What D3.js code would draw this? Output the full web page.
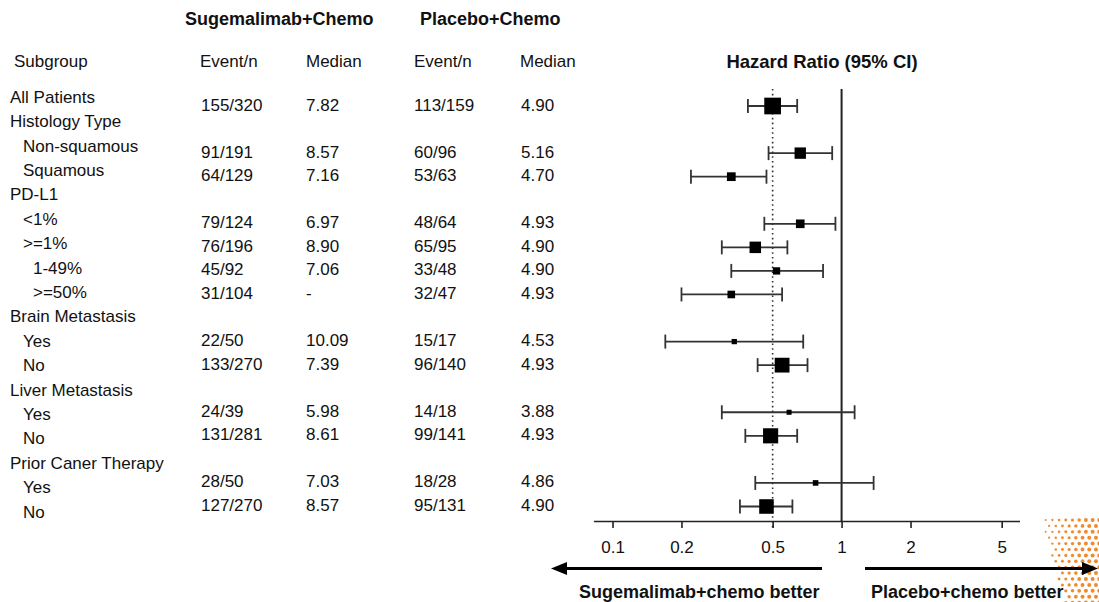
<!DOCTYPE html>
<html>
<head>
<meta charset="utf-8">
<script src="https://cdn.jsdelivr.net/npm/d3@7"></script>
<style>
  html, body { margin: 0; padding: 0; background: #ffffff; }
  svg { display: block; font-family: "Liberation Sans", Arial, sans-serif; }
</style>
</head>
<body>
<script>
// ---------------- DATA ----------------
const subgroupLabels = ["All Patients","Histology Type","Non-squamous","Squamous","PD-L1","<1%",">=1%","1-49%",">=50%",
  "Brain Metastasis","Yes","No","Liver Metastasis","Yes","No","Prior Caner Therapy","Yes","No"];
const subgroupLevels = [0,0,1,1,0,1,1,2,2,0,1,1,0,1,1,0,1,1];

// row index (in subgroup list) for each data row
const dataRows   = [0,2,3,5,6,7,8,10,11,13,14,16,17];
const sugEvents  = ["155/320","91/191","64/129","79/124","76/196","45/92","31/104","22/50","133/270","24/39","131/281","28/50","127/270"];
const sugMedian  = ["7.82","8.57","7.16","6.97","8.90","7.06","-","10.09","7.39","5.98","8.61","7.03","8.57"];
const plaEvents  = ["113/159","60/96","53/63","48/64","65/95","33/48","32/47","15/17","96/140","14/18","99/141","18/28","95/131"];
const plaMedian  = ["4.90","5.16","4.70","4.93","4.90","4.90","4.93","4.53","4.93","3.88","4.93","4.86","4.90"];
const hazardRatio = [0.50,0.66,0.33,0.66,0.42,0.52,0.33,0.34,0.55,0.59,0.49,0.77,0.47];
const ciLower     = [0.39,0.48,0.22,0.46,0.30,0.33,0.20,0.17,0.43,0.30,0.38,0.42,0.36];
const ciUpper     = [0.64,0.91,0.47,0.94,0.58,0.83,0.55,0.68,0.71,1.14,0.64,1.38,0.61];
const overallHR = 0.50;

const tickValues = [0.1, 0.2, 0.5, 1, 2, 5];
const tickLabels = ["0.1","0.2","0.5","1","2","5"];

const groupHeaders = ["Sugemalimab+Chemo","Placebo+Chemo"];
const columnHeaders = ["Subgroup","Event/n","Median","Event/n","Median"];
const plotTitle = "Hazard Ratio (95% CI)";
const arrowLabels = ["Sugemalimab+chemo better","Placebo+chemo better"];

// ---------------- LAYOUT ----------------
const W = 1099, H = 602;
const FONT = 17, BOLD = 18;
const svg = d3.select("body").append("svg").attr("width", W).attr("height", H);

// decorative halftone dots (bottom-right corner)
const deco = svg.append("g");
for (let r = 0; r < 15; r++) {
  const y = 520 + r * 5.9;
  if (y > H + 2) break;
  const left = 1042 + (y - 520) * 0.27;
  const off = (r % 2) * 3.35;
  for (let x = 1039 + off; x <= W + 3; x += 6.7) {
    if (x < left) continue;
    const t = Math.min(1, (x - left) / 28 * 0.6 + (y - 520) / 80 * 0.6);
    deco.append("circle").attr("cx", x).attr("cy", y).attr("r", 0.9 + 1.1 * t).attr("fill", "#F08A2E");
  }
}

const labelY = d3.scaleLinear().domain([0, 17]).range([97.3, 512]);
const rowY   = d3.scaleLinear().domain([0, 17]).range([106, 506.5]);
const x = d3.scaleLog().domain([0.0826, 5.98]).range([593.5, 1019.5]);

const nTotal = sugEvents.map((s, i) => +s.split("/")[1] + +plaEvents[i].split("/")[1]);
const size = d3.scaleLinear().domain([57, 479]).range([5, 16.7]);

// headers
svg.selectAll("text.grp").data(groupHeaders).join("text")
  .attr("x", (d, i) => [185, 420][i]).attr("y", 19)
  .attr("dominant-baseline", "central")
  .attr("font-size", BOLD).attr("font-weight", "bold").attr("fill", "#111").text(d => d);

svg.selectAll("text.colh").data(columnHeaders).join("text")
  .attr("x", (d, i) => [14, 200, 306, 414, 520][i]).attr("y", 61)
  .attr("dominant-baseline", "central")
  .attr("font-size", FONT).attr("fill", "#111").text(d => d);

svg.append("text").attr("x", 822).attr("y", 61).attr("text-anchor", "middle")
  .attr("dominant-baseline", "central")
  .attr("font-size", 18.5).attr("font-weight", "bold").attr("fill", "#111").text(plotTitle);

// subgroup labels
svg.selectAll("text.sub").data(subgroupLabels).join("text")
  .attr("x", (d, i) => [10, 23, 33][subgroupLevels[i]])
  .attr("y", (d, i) => labelY(i))
  .attr("dominant-baseline", "central")
  .attr("font-size", FONT).attr("fill", "#111").text(d => d);

// value columns
const cols = [sugEvents, sugMedian, plaEvents, plaMedian];
const colX = [201, 306, 414, 521];
cols.forEach((arr, c) => {
  svg.selectAll("text.c" + c).data(arr).join("text")
    .attr("x", colX[c]).attr("y", (d, i) => rowY(dataRows[i]) - 1)
    .attr("dominant-baseline", "central")
    .attr("font-size", FONT).attr("fill", "#111").text(d => d);
});

// reference lines
svg.append("line").attr("x1", x(1)).attr("x2", x(1)).attr("y1", 89).attr("y2", 521)
  .attr("stroke", "#222").attr("stroke-width", 2);
svg.append("line").attr("x1", x(overallHR)).attr("x2", x(overallHR)).attr("y1", 89).attr("y2", 529)
  .attr("stroke", "#333").attr("stroke-width", 1.6).attr("stroke-dasharray", "1.6,3.2");

// CI lines
const forest = svg.append("g");
hazardRatio.forEach((hr, i) => {
  const y = rowY(dataRows[i]);
  forest.append("line").attr("x1", x(ciLower[i])).attr("x2", x(ciUpper[i])).attr("y1", y).attr("y2", y)
    .attr("stroke", "#333").attr("stroke-width", 1.8);
  [ciLower[i], ciUpper[i]].forEach(v => {
    forest.append("line").attr("x1", x(v)).attr("x2", x(v)).attr("y1", y - 7).attr("y2", y + 7)
      .attr("stroke", "#333").attr("stroke-width", 1.8);
  });
  const s = size(nTotal[i]);
  forest.append("rect").attr("x", x(hr) - s / 2).attr("y", y - s / 2).attr("width", s).attr("height", s)
    .attr("fill", "#000");
});

// axis
const axisG = svg.append("g").attr("transform", "translate(0,521)")
  .call(d3.axisBottom(x).tickValues(tickValues).tickFormat((d, i) => tickLabels[i]).tickSize(7).tickSizeOuter(0));
axisG.attr("font-family", null).attr("font-size", null);
axisG.select(".domain").attr("stroke", "#222").attr("stroke-width", 1.6);
axisG.selectAll(".tick line").attr("stroke", "#222").attr("stroke-width", 1.6);
axisG.selectAll(".tick text").attr("y", 20).attr("font-size", FONT).attr("fill", "#111");

// arrows
const ay = 568.5;
svg.append("line").attr("x1", 822).attr("x2", 565).attr("y1", ay).attr("y2", ay).attr("stroke", "#000").attr("stroke-width", 3);
svg.append("path").attr("d", `M551,${ay} L567,${ay - 6.5} L567,${ay + 6.5} Z`).attr("fill", "#000");
svg.append("line").attr("x1", 865).attr("x2", 1084).attr("y1", ay).attr("y2", ay).attr("stroke", "#000").attr("stroke-width", 3);
svg.append("path").attr("d", `M1098,${ay} L1082,${ay - 6.5} L1082,${ay + 6.5} Z`).attr("fill", "#000");

svg.selectAll("text.arr").data(arrowLabels).join("text")
  .attr("x", (d, i) => [579, 871][i]).attr("y", 592)
  .attr("dominant-baseline", "central")
  .attr("font-size", BOLD).attr("font-weight", "bold").attr("fill", "#111").text(d => d);
</script>
</body>
</html>
